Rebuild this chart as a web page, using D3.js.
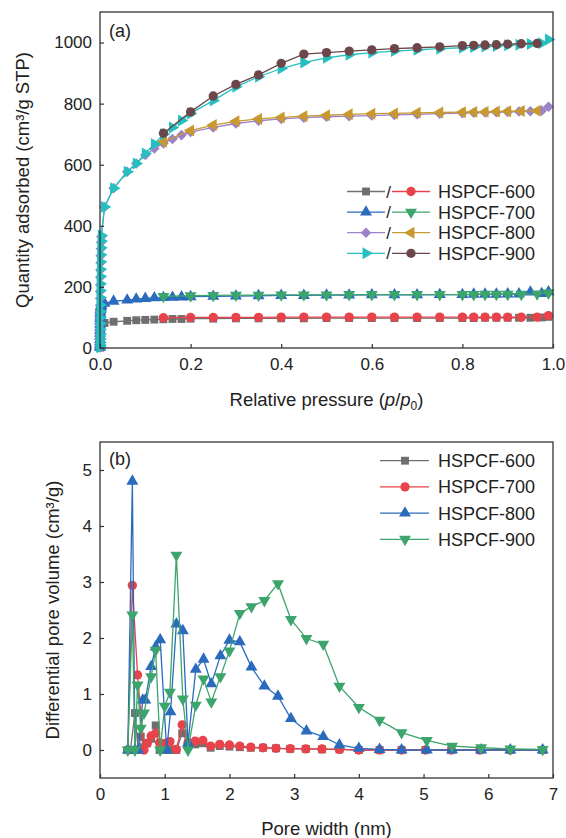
<!DOCTYPE html>
<html><head><meta charset="utf-8">
<script src="https://cdn.jsdelivr.net/npm/d3@7"></script>
<style>
body{margin:0;background:#fff}
svg{display:block}
text{font-family:"Liberation Sans",Arial,Helvetica,sans-serif;fill:#222}
</style>
</head><body>
<svg id="c" width="566" height="838"></svg>
<script>
// ---------- Panel (a): N2 isotherms ----------
const adsP = [0.000002, 0.000005, 0.00001, 0.00002, 0.00003, 0.00005, 0.00008, 0.0001, 0.00015, 0.0002,
  0.0003, 0.0004, 0.0005, 0.0007, 0.0009, 0.0012, 0.0015, 0.002, 0.0025, 0.003,
  0.01, 0.03, 0.06, 0.08, 0.10, 0.12, 0.14, 0.16, 0.18, 0.20,
  0.25, 0.30, 0.35, 0.40, 0.45, 0.50, 0.55, 0.60, 0.65, 0.70, 0.75, 0.80,
  0.825, 0.85, 0.875, 0.90, 0.925, 0.95, 0.975, 0.99];
const desP = [0.99, 0.965, 0.93, 0.90, 0.875, 0.85, 0.825, 0.80, 0.75, 0.70, 0.65, 0.60, 0.55, 0.50, 0.45, 0.40, 0.35, 0.30, 0.25, 0.20, 0.14];

const ads600 = [1, 4, 8, 13, 18, 24, 30, 36, 42, 48, 53, 58, 62, 66, 70, 73, 76, 78, 80, 81,
  82, 86, 89, 91, 92, 93, 94, 95, 95, 96,
  96, 97, 97, 97, 97, 98, 98, 98, 98, 98, 98, 98,
  98, 99, 99, 99, 99, 99, 100, 102];
const des600 = [106, 101, 101, 101, 101, 101, 101, 101, 101, 101, 101, 101, 101, 101, 101, 101, 100, 100, 100, 100, 99];

const ads700 = [2, 6, 12, 20, 28, 38, 48, 58, 68, 78, 88, 97, 105, 113, 120, 126, 131, 135, 138, 141,
  146, 153, 157, 160, 162, 164, 165, 166, 167, 168,
  169, 170, 171, 172, 172, 173, 173, 174, 174, 174, 175, 175,
  176, 176, 176, 177, 177, 183, 178, 184];
const des700 = [180, 177, 176, 176, 176, 176, 175, 175, 175, 175, 175, 175, 175, 174, 174, 174, 173, 173, 172, 171, 169];

const ads800 = [2, 8, 17, 29, 44, 60, 78, 98, 118, 140, 162, 185, 207, 232, 255, 279, 302, 325, 346, 364,
  462, 523, 577, 604, 632, 653, 670, 684, 697, 707,
  722, 735, 744, 750, 754, 757, 759, 761, 763, 765, 767, 769,
  770, 771, 772, 773, 774, 775, 777, 790];
const des800 = [null, 777, 776, 775, 774, 773, 773, 772, 771, 770, 768, 767, 765, 762, 759, 755, 750, 742, 730, 712, 675];

const ads900 = [2, 8, 18, 30, 45, 62, 80, 100, 120, 142, 165, 188, 210, 235, 258, 282, 305, 328, 350, 368,
  462, 523, 577, 604, 637, 668, 700, 722, 745, 768,
  810, 855, 888, 915, 935, 950, 960, 967, 972, 976, 980, 983,
  985, 987, 989, 991, 993, 995, 998, 1010];
const des900 = [null, 997, 996, 995, 993, 992, 991, 990, 986, 983, 980, 976, 972, 967, 962, 932, 894, 863, 825, 773, 703];

const isoNames = ["HSPCF-600", "HSPCF-700", "HSPCF-800", "HSPCF-900"];
const isoXTicks = [0, 0.2, 0.4, 0.6, 0.8, 1.0];
const isoYTicks = [0, 200, 400, 600, 800, 1000];

// ---------- Panel (b): pore size distributions ----------
const psdW600 = [0.43, 0.47, 0.54, 0.59, 0.63, 0.68, 0.73, 0.79, 0.86, 0.92, 1.00, 1.08, 1.18, 1.27, 1.36, 1.47, 1.59, 1.71, 1.85, 2.00, 2.16, 2.33, 2.52, 2.72, 2.94, 3.18, 3.43, 3.70, 4.00, 4.32, 4.66, 5.03, 5.43, 5.87, 6.34, 6.84];
const psdV600 = [0, 0, 0.66, 0, 0.24, 0.05, 0.12, 0.2, 0.44, 0, 0, 0, 0, 0.30, 0.12, 0.10, 0.12, 0.04, 0.07, 0.06, 0.05, 0.04, 0.04, 0.03, 0.02, 0.02, 0.01, 0.01, 0, 0, 0, 0, 0, 0, 0, 0];

const psdW700 = [0.43, 0.50, 0.58, 0.68, 0.73, 0.79, 0.86, 0.92, 1.00, 1.08, 1.18, 1.27, 1.36, 1.47, 1.59, 1.71, 1.85, 2.00, 2.16, 2.33, 2.52, 2.72, 2.94, 3.18, 3.43, 3.70, 4.00, 4.32, 4.66, 5.03, 5.43, 5.87, 6.34, 6.84];
const psdV700 = [0, 2.94, 1.34, 0, 0.12, 0.25, 0.30, 0.13, 0.12, 0.15, 0.01, 0.45, 0.13, 0.16, 0.17, 0.07, 0.10, 0.09, 0.07, 0.05, 0.04, 0.03, 0.025, 0.02, 0.02, 0.01, 0, 0, 0, 0, 0, 0, 0, 0];

const psdW800 = [0.43, 0.50, 0.54, 0.59, 0.66, 0.70, 0.79, 0.86, 0.93, 1.03, 1.09, 1.18, 1.28, 1.36, 1.48, 1.60, 1.72, 1.86, 2.00, 2.16, 2.34, 2.54, 2.75, 2.95, 3.19, 3.45, 3.70, 4.00, 4.32, 4.66, 5.05, 5.44, 5.89, 6.34, 6.84];
const psdV800 = [0, 4.8, 0, 0, 0.89, 0.89, 1.49, 1.84, 1.97, 0, 0.68, 2.25, 2.13, 0.12, 1.44, 1.62, 1.18, 1.68, 1.96, 1.93, 1.48, 1.14, 0.96, 0.56, 0.34, 0.24, 0.09, 0.03, 0.01, 0, 0, 0, 0, 0, 0];

const psdW900 = [0.43, 0.50, 0.54, 0.58, 0.63, 0.68, 0.79, 0.86, 0.93, 1.00, 1.08, 1.18, 1.28, 1.36, 1.48, 1.60, 1.72, 1.86, 2.00, 2.16, 2.34, 2.54, 2.75, 2.95, 3.19, 3.45, 3.70, 4.00, 4.32, 4.66, 5.05, 5.44, 5.89, 6.34, 6.84];
const psdV900 = [0, 2.41, 0, 1.16, 0.39, 0.66, 1.31, 1.78, 0, 0.78, 1.03, 3.48, 0.91, 0, 0.80, 1.27, 0.86, 1.31, 1.77, 2.44, 2.56, 2.67, 2.97, 2.33, 1.99, 1.89, 1.14, 0.76, 0.53, 0.31, 0.17, 0.07, 0.04, 0.02, 0.01];

const psdNames = ["HSPCF-600", "HSPCF-700", "HSPCF-800", "HSPCF-900"];
const psdXTicks = [0, 1, 2, 3, 4, 5, 6, 7];
const psdYTicks = [0, 1, 2, 3, 4, 5];

// ---------- styles ----------
const C = {gray:"#6f6f6f", red:"#e8434a", blue:"#2a6bbd", green:"#3ca56c",
           purple:"#9c83c7", gold:"#c8992e", cyan:"#25bfc0", brown:"#6d4649"};
const SYM = {
  square:{type:d3.symbolSquare, size:62, rot:0},
  circle:{type:d3.symbolCircle, size:68, rot:0},
  up:{type:d3.symbolTriangle, size:62, rot:0},
  down:{type:d3.symbolTriangle, size:62, rot:180},
  diamond:{type:d3.symbolSquare, size:56, rot:45},
  left:{type:d3.symbolTriangle, size:62, rot:-90},
  right:{type:d3.symbolTriangle, size:62, rot:90}
};

const svg = d3.select("#c");
const FONT = 17, TITLE = 18.5;

function drawSeries(g, x, y, xs, ys, color, sym) {
  const pts = xs.map((d, i) => [d, ys[i]]).filter(d => d[1] !== null);
  g.append("path").datum(pts)
    .attr("fill", "none").attr("stroke", color).attr("stroke-width", 1.3)
    .attr("d", d3.line().x(d => x(d[0])).y(d => y(d[1])));
  const s = SYM[sym];
  g.selectAll(null).data(pts).enter().append("path")
    .attr("d", d3.symbol().type(s.type).size(s.size))
    .attr("transform", d => `translate(${x(d[0])},${y(d[1])}) rotate(${s.rot})`)
    .attr("fill", color);
}

function frameAndAxes(x, y, xt, yt, xfmt, yfmt, L, T, R, B) {
  const ax = svg.append("g").attr("transform", `translate(0,${B})`)
    .call(d3.axisBottom(x).tickValues(xt).tickFormat(xfmt).tickSize(-4).tickPadding(10));
  const ay = svg.append("g").attr("transform", `translate(${L},0)`)
    .call(d3.axisLeft(y).tickValues(yt).tickFormat(yfmt).tickSize(-4).tickPadding(8));
  [ax, ay].forEach(a => {
    a.select(".domain").remove();
    a.selectAll("line").attr("stroke", "#333").attr("stroke-width", 1.2);
    a.selectAll("text").attr("font-size", FONT).attr("font-family", '"Liberation Sans",Arial,sans-serif').attr("fill", "#222");
  });
  svg.append("rect").attr("x", L).attr("y", T).attr("width", R - L).attr("height", B - T)
    .attr("fill", "none").attr("stroke", "#333").attr("stroke-width", 1.3);
}

// ===== Panel (a) =====
{
  const L = 100, R = 553, T = 12, B = 348;
  const x = d3.scaleLinear().domain([0, 1]).range([L, R]);
  const y = d3.scaleLinear().domain([0, 1100]).range([B, T]);
  const g = svg.append("g");
  drawSeries(g, x, y, adsP, ads600, C.gray, "square");
  drawSeries(g, x, y, desP, des600, C.red, "circle");
  drawSeries(g, x, y, adsP, ads700, C.blue, "up");
  drawSeries(g, x, y, desP, des700, C.green, "down");
  drawSeries(g, x, y, adsP, ads800, C.purple, "diamond");
  drawSeries(g, x, y, desP, des800, C.gold, "left");
  drawSeries(g, x, y, adsP, ads900, C.cyan, "right");
  drawSeries(g, x, y, desP, des900, C.brown, "circle");
  frameAndAxes(x, y, isoXTicks, isoYTicks, d3.format(".1f"), d3.format("d"), L, T, R, B);

  svg.append("text").attr("x", 109).attr("y", 37).attr("font-size", 18).text("(a)");

  const lg = [[C.gray, "square", C.red, "circle"], [C.blue, "up", C.green, "down"],
              [C.purple, "diamond", C.gold, "left"], [C.cyan, "right", C.brown, "circle"]];
  lg.forEach((r, i) => {
    const cy = 191.5 + i * 20.6;
    svg.append("line").attr("x1", 347).attr("x2", 385).attr("y1", cy).attr("y2", cy).attr("stroke", r[0]).attr("stroke-width", 1.3);
    svg.append("line").attr("x1", 392).attr("x2", 430).attr("y1", cy).attr("y2", cy).attr("stroke", r[2]).attr("stroke-width", 1.3);
    const s1 = SYM[r[1]], s2 = SYM[r[3]];
    svg.append("path").attr("d", d3.symbol().type(s1.type).size(s1.size)).attr("transform", `translate(366,${cy}) rotate(${s1.rot})`).attr("fill", r[0]);
    svg.append("path").attr("d", d3.symbol().type(s2.type).size(s2.size)).attr("transform", `translate(411,${cy}) rotate(${s2.rot})`).attr("fill", r[2]);
    svg.append("text").attr("x", 388.5).attr("y", cy + 6).attr("font-size", FONT).attr("text-anchor", "middle").text("/");
    svg.append("text").attr("x", 438).attr("y", cy + 6.5).attr("font-size", 18).text(isoNames[i]);
  });

  const xt = svg.append("text").attr("x", (L + R) / 2).attr("y", 406).attr("font-size", TITLE).attr("text-anchor", "middle");
  xt.append("tspan").text("Relative pressure (");
  xt.append("tspan").attr("font-style", "italic").text("p");
  xt.append("tspan").text("/");
  xt.append("tspan").attr("font-style", "italic").text("p");
  xt.append("tspan").attr("font-size", 12).attr("dy", 4).text("0");
  xt.append("tspan").attr("dy", -4).text(")");

  svg.append("text").attr("transform", `translate(29,${(T + B) / 2}) rotate(-90)`).attr("font-size", TITLE)
    .attr("text-anchor", "middle").text("Quantity adsorbed (cm³/g STP)");
}

// ===== Panel (b) =====
{
  const L = 100, R = 553, T = 442, B = 778;
  const x = d3.scaleLinear().domain([0, 7]).range([L, R]);
  const y = d3.scaleLinear().domain([-0.5, 5.5]).range([B, T]);
  const g = svg.append("g");
  drawSeries(g, x, y, psdW600, psdV600, C.gray, "square");
  drawSeries(g, x, y, psdW700, psdV700, C.red, "circle");
  drawSeries(g, x, y, psdW800, psdV800, C.blue, "up");
  drawSeries(g, x, y, psdW900, psdV900, C.green, "down");
  frameAndAxes(x, y, psdXTicks, psdYTicks, d3.format("d"), d3.format("d"), L, T, R, B);

  svg.append("text").attr("x", 109).attr("y", 465).attr("font-size", 18).text("(b)");

  const lg = [[C.gray, "square"], [C.red, "circle"], [C.blue, "up"], [C.green, "down"]];
  lg.forEach((r, i) => {
    const cy = 460.7 + i * 26.2;
    svg.append("line").attr("x1", 380).attr("x2", 429).attr("y1", cy).attr("y2", cy).attr("stroke", r[0]).attr("stroke-width", 1.3);
    const s = SYM[r[1]];
    svg.append("path").attr("d", d3.symbol().type(s.type).size(s.size)).attr("transform", `translate(405,${cy}) rotate(${s.rot})`).attr("fill", r[0]);
    svg.append("text").attr("x", 438).attr("y", cy + 6.5).attr("font-size", 18).text(psdNames[i]);
  });

  svg.append("text").attr("x", (L + R) / 2).attr("y", 835).attr("font-size", TITLE).attr("text-anchor", "middle").text("Pore width (nm)");
  svg.append("text").attr("transform", `translate(59,${(T + B) / 2}) rotate(-90)`).attr("font-size", TITLE)
    .attr("text-anchor", "middle").text("Differential pore volume (cm³/g)");
}
</script>
</body></html>
